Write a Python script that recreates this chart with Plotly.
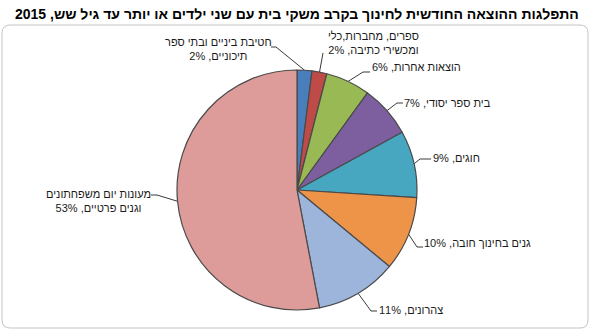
import math
import plotly.graph_objects as go

# Monthly education spending breakdown (households with two+ children up to age six), 2015
categories = [
    "חטיבת ביניים ובתי ספר\nתיכוניים",
    "ספרים, מחברות,כלי\nומכשירי כתיבה",
    "הוצאות אחרות",
    "בית ספר יסודי",
    "חוגים",
    "גנים בחינוך חובה",
    "צהרונים",
    "מעונות יום משפחתונים\nוגנים פרטיים",
]
values = [2, 2, 6, 7, 9, 10, 11, 53]
colors = ["#4A7EBB", "#BE4B48", "#98B954", "#7D5FA0",
          "#47A7C1", "#EE9448", "#9DB4DB", "#DD9C9A"]
title_text = "התפלגות ההוצאה החודשית לחינוך בקרב משקי בית עם שני ילדים או יותר עד גיל שש, 2015"

W, H = 590, 330
CX, CY, R = 297, 190, 120          # pie centre and radius, px

# label block centres (px) and the bend point of each leader line
label_xy = [(218, 49), (373, 43), (416, 67), (447, 102.5),
            (456.5, 158), (477.5, 243), (410.5, 310), (98, 201)]
leader_end = [[(276, 47), (271, 47)],
              [(323, 55), (323, 53)],
              [(363, 72), (370, 72)],
              [(397, 103), (403, 103)],
              [(420, 159), (431, 159)],
              [(417, 247), (423, 247)],
              [(371, 311), (377, 311)],
              [(157, 195), (151, 195)]]

fig = go.Figure()

fig.add_trace(go.Pie(
    labels=[c.replace("\n", " ") for c in categories],
    values=values,
    sort=False,
    direction="clockwise",
    rotation=0,
    textinfo="none",
    hoverinfo="label+percent",
    marker=dict(colors=colors, line=dict(color="#4a4a4a", width=1.2)),
    domain=dict(x=[(CX - R) / W, (CX + R) / W],
                y=[(H - CY - R) / H, (H - CY + R) / H]),
    showlegend=False,
))

# leader lines from each slice's mid-angle on the rim to its label
total = sum(values)
lx, ly = [], []
cum = 0
for v, pts in zip(values, leader_end):
    a = 2 * math.pi * (cum + v / 2) / total
    cum += v
    px, py = CX + R * math.sin(a), CY - R * math.cos(a)
    lx += [px] + [p[0] for p in pts] + [None]
    ly += [py] + [p[1] for p in pts] + [None]

fig.add_trace(go.Scatter(x=lx, y=ly, mode="lines",
                         line=dict(color="#3a3a3a", width=1),
                         hoverinfo="skip", showlegend=False))

font = "Liberation Sans, Arial, sans-serif"
annotations = []
for name, v, (tx, ty) in zip(categories, values, label_xy):
    text = name.replace("\n", "<br>") + f", {v}%"
    annotations.append(dict(x=tx, y=ty, xref="x", yref="y", text=text,
                            showarrow=False, align="center",
                            xanchor="center", yanchor="middle",
                            font=dict(family=font, size=11, color="#1a1a1a")))
annotations.append(dict(x=297, y=14, xref="x", yref="y", text=f"<b>{title_text}</b>",
                        showarrow=False, xanchor="center", yanchor="middle",
                        font=dict(family=font, size=14, color="#000000")))

# rounded chart frame
x0, y0, x1, y1, r = 2, 25, 588, 328, 8
frame = (f"M {x0 + r},{y0} L {x1 - r},{y0} Q {x1},{y0} {x1},{y0 + r} "
         f"L {x1},{y1 - r} Q {x1},{y1} {x1 - r},{y1} L {x0 + r},{y1} "
         f"Q {x0},{y1} {x0},{y1 - r} L {x0},{y0 + r} Q {x0},{y0} {x0 + r},{y0} Z")

fig.update_layout(
    width=W, height=H,
    margin=dict(l=0, r=0, t=0, b=0),
    paper_bgcolor="white", plot_bgcolor="rgba(0,0,0,0)",
    xaxis=dict(range=[0, W], visible=False, fixedrange=True),
    yaxis=dict(range=[H, 0], visible=False, fixedrange=True),
    annotations=annotations,
    shapes=[dict(type="path", path=frame, xref="x", yref="y",
                 line=dict(color="#c4c4c4", width=1), layer="below")],
)

fig.write_html("out.html")
